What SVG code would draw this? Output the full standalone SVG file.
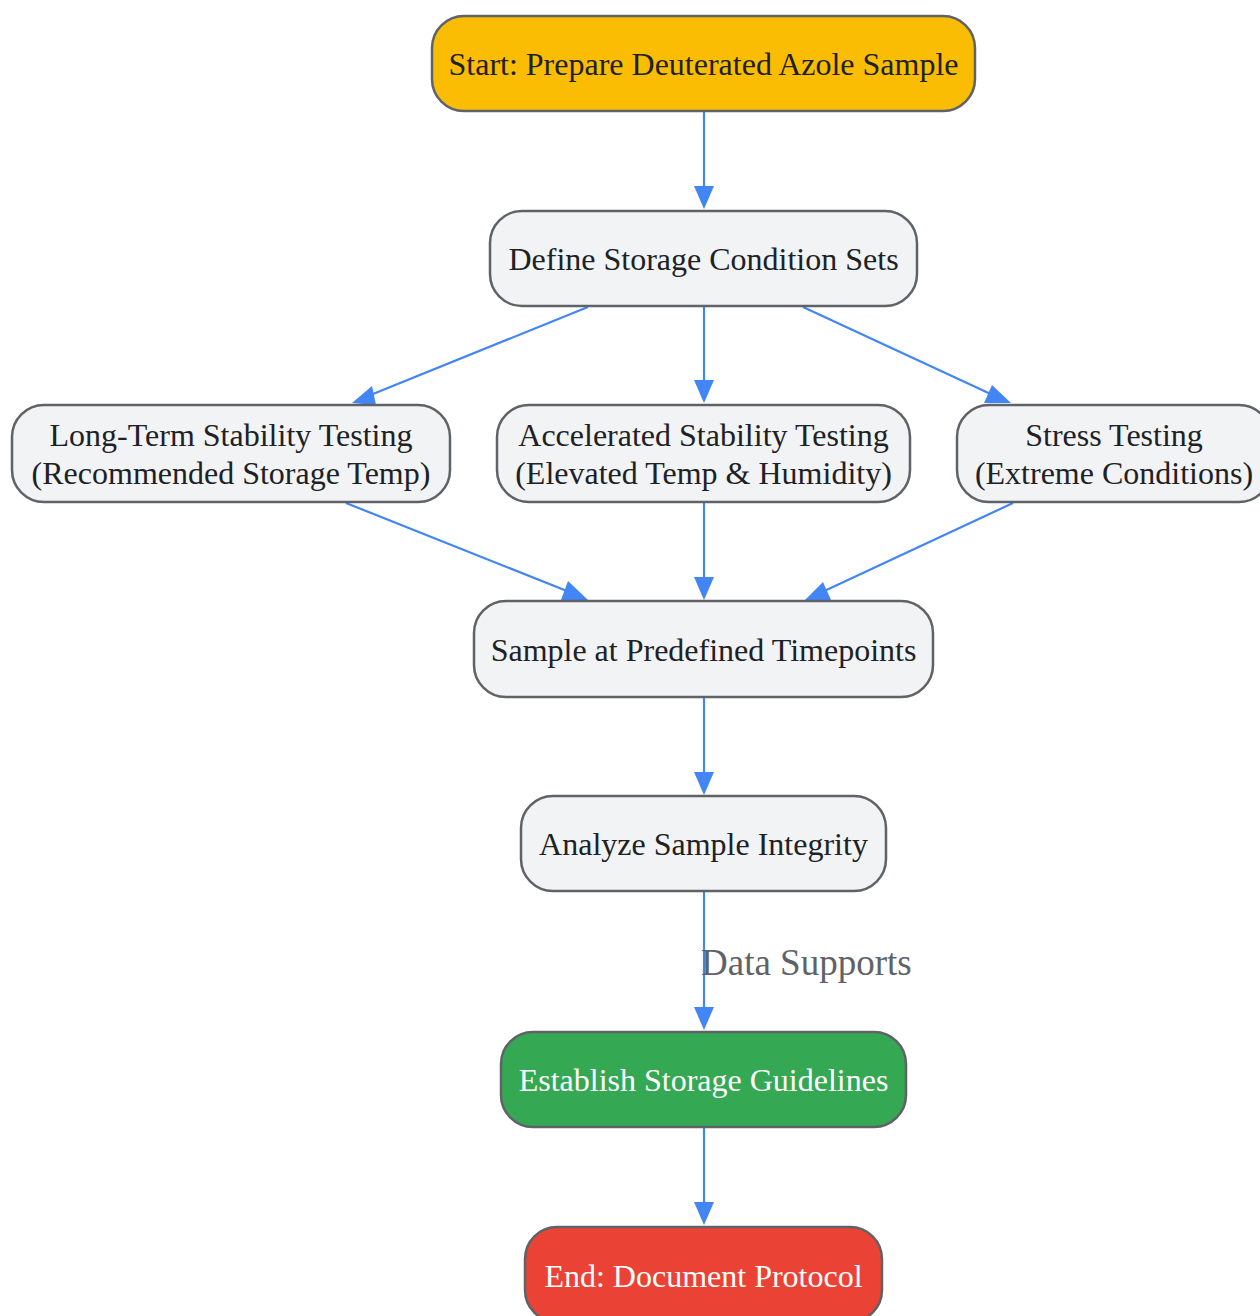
<svg xmlns="http://www.w3.org/2000/svg" width="1260" height="1316" viewBox="0 0 1260 1316">
<defs>
<style>
.n rect{stroke:#5f6368;stroke-width:2.5}
.d rect{fill:#f1f3f4}
.t{font-family:"Liberation Serif","Times New Roman",serif;font-size:32px;fill:#202124;text-anchor:middle}
.w{fill:#ffffff}
.e{stroke:#4285f4;stroke-width:2.2;fill:none}
.h{fill:#4285f4}
.lbl{font-family:"Liberation Serif","Times New Roman",serif;font-size:37px;fill:#5f6368}
</style>
</defs>
<rect width="1260" height="1316" fill="#ffffff"/>
<g id="connectors">
<line class="e" x1="704" y1="111" x2="704" y2="190"/>
<polygon class="h" points="694,186 714,186 704,209"/>
<line class="e" x1="704" y1="307" x2="704" y2="385"/>
<polygon class="h" points="694,380 714,380 704,403"/>
<line class="e" x1="588" y1="307" x2="368" y2="396"/>
<polygon class="h" points="352,403 372,386 376,405"/>
<line class="e" x1="803" y1="307" x2="995" y2="396"/>
<polygon class="h" points="1011,403 984,403 992,385"/>
<line class="e" x1="346" y1="503" x2="572" y2="593"/>
<polygon class="h" points="588,600 561,600 568,581"/>
<line class="e" x1="704" y1="503" x2="704" y2="582"/>
<polygon class="h" points="694,577 714,577 704,600"/>
<line class="e" x1="1013" y1="503" x2="820" y2="593"/>
<polygon class="h" points="805,600 823,582 831,600"/>
<line class="e" x1="704" y1="697" x2="704" y2="777"/>
<polygon class="h" points="694,772 714,772 704,795"/>
<line class="e" x1="704" y1="892" x2="704" y2="1012"/>
<polygon class="h" points="694,1007 714,1007 704,1030"/>
<text class="lbl" x="701" y="975">Data Supports</text>
<line class="e" x1="704" y1="1128" x2="704" y2="1207"/>
<polygon class="h" points="694,1202 714,1202 704,1225"/>
</g>
<g id="start" class="n"><rect x="432" y="16" width="543" height="95" rx="32" fill="#fbbc04"/><text class="t" x="703.5" y="75">Start: Prepare Deuterated Azole Sample</text></g>
<g id="define" class="n d"><rect x="490" y="211" width="427" height="95" rx="32"/><text class="t" x="703.5" y="270">Define Storage Condition Sets</text></g>
<g id="longterm" class="n d"><rect x="12" y="405" width="438" height="97" rx="32"/><text class="t" x="231" y="446">Long-Term Stability Testing</text><text class="t" x="231" y="484">(Recommended Storage Temp)</text></g>
<g id="accelerated" class="n d"><rect x="497" y="405" width="413" height="97" rx="32"/><text class="t" x="703.5" y="446">Accelerated Stability Testing</text><text class="t" x="703.5" y="484">(Elevated Temp &amp; Humidity)</text></g>
<g id="stress" class="n d"><rect x="957" y="405" width="314" height="97" rx="32"/><text class="t" x="1114" y="446">Stress Testing</text><text class="t" x="1114" y="484">(Extreme Conditions)</text></g>
<g id="sample" class="n d"><rect x="474" y="601" width="459" height="96" rx="32"/><text class="t" x="703.5" y="661">Sample at Predefined Timepoints</text></g>
<g id="analyze" class="n d"><rect x="521" y="796" width="365" height="95" rx="32"/><text class="t" x="703.5" y="855">Analyze Sample Integrity</text></g>
<g id="establish" class="n"><rect x="501" y="1032" width="405" height="95" rx="32" fill="#34a853"/><text class="t w" x="703.5" y="1091">Establish Storage Guidelines</text></g>
<g id="end" class="n"><rect x="525" y="1227" width="357" height="95" rx="32" fill="#ea4335"/><text class="t w" x="703.5" y="1287">End: Document Protocol</text></g>
</svg>
